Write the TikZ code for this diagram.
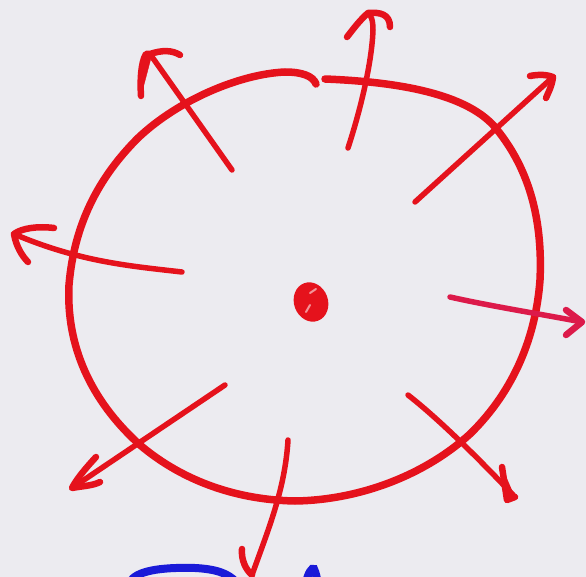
\documentclass[tikz,border=0pt]{standalone}
\usetikzlibrary{arrows.meta}
\definecolor{paper}{HTML}{ECEBF0}
\definecolor{ink}{HTML}{E5121C}
\definecolor{pink}{HTML}{DC1A4A}
\definecolor{bink}{HTML}{1A1AD8}
\tikzset{
  ring/.style={ink, line width=7.5pt, line cap=round, line join=round},
  ray/.style={ink, line width=5.5pt, line cap=round, line join=round},
  barb/.style={ink, line width=6.5pt, line cap=round, line join=round},
  blue/.style={bink, line width=8pt, line cap=round},
}
\begin{document}
\begin{tikzpicture}[x=1pt,y=-1pt]
\fill[paper] (0,0) rectangle (586,577);
\useasboundingbox (0,0) rectangle (586,577);
\begin{scope}
\clip (0,0) rectangle (586,577);
% ring, drawn as one stroke with a gap at the top
\draw[ring] (316,84) .. controls (313,76) and (302,72) .. (285,72)
  .. controls (240,74) and (178,100) .. (138,138)
  .. controls (98,178) and (74,225) .. (69,285)
  .. controls (66,345) and (90,400) .. (140,445)
  .. controls (185,483) and (240,500) .. (295,501)
  .. controls (360,500) and (425,475) .. (470,434)
  .. controls (515,390) and (536,335) .. (540,280)
  .. controls (543,215) and (527,165) .. (494,126)
  .. controls (465,94) and (400,82) .. (325,79);
% centre dot
\fill[ink, rotate around={20:(311,302)}] (311,302) ellipse [x radius=17, y radius=20];
\draw[white, opacity=0.55, line width=2pt, line cap=round] (310,293) -- (316,289) (306,312) -- (310,305);
% rays
\coordinate (s1) at (232,170); \coordinate (t1) at (150,54);
\draw[ray] (s1) -- (t1);
\draw[barb] (141,96) .. controls (140,80) and (141,62) .. (146,54) -- (t1) .. controls (162,50) and (172,50) .. (180,55);
\draw[ink, fill] (146,54) -- (151,58) -- (141,96) -- (139,70) -- cycle;
\coordinate (s2) at (348,148); \coordinate (t2) at (368,13);
\draw[ray] (s2) .. controls (362,105) and (372,60) .. (373,30) .. controls (373,20) and (371,15) .. (t2);
\draw[barb] (347,37) .. controls (354,28) and (360,20) .. (t2) .. controls (380,12) and (390,14) .. (390,27);
\coordinate (s3) at (415,202); \coordinate (t3) at (553,77);
\draw[ray] (s3) -- (t3);
\draw[barb] (530,76) .. controls (540,74) and (548,75) .. (t3) .. controls (552,86) and (548,93) .. (546,98);
\coordinate (s4) at (182,272); \coordinate (t4) at (14,234);
\draw[ray] (s4) .. controls (130,266) and (80,262) .. (t4);
\draw[barb] (54,228) .. controls (38,226) and (22,228) .. (t4) .. controls (16,246) and (22,256) .. (28,262);
\coordinate (s5) at (450,297); \coordinate (t5) at (582,322);
\draw[ray, pink] (s5) .. controls (490,306) and (540,314) .. (t5);
\draw[barb, pink] (566,310) -- (t5) -- (566,335);
\coordinate (s6) at (408,395); \coordinate (t6) at (515,497);
\draw[ray] (s6) .. controls (440,420) and (480,460) .. (t6);
\draw[barb] (502,467) -- (507,500) -- (t6);
\fill[ink] (502,467) -- (507,500) -- (t6) -- cycle;
\coordinate (s7) at (225,385); \coordinate (t7) at (72,488);
\draw[ray] (s7) -- (t7);
\draw[barb] (96,457) .. controls (84,470) and (76,480) .. (t7) .. controls (82,486) and (92,486) .. (100,482);
\coordinate (s8) at (288,440); \coordinate (t8) at (252,575);
\draw[ray] (s8) .. controls (285,490) and (268,530) .. (t8);
\draw[barb] (242,549) .. controls (241,560) and (246,570) .. (t8);
% cut-off blue writing at the bottom edge
\draw[blue] (130,582) .. controls (136,571) and (160,567) .. (195,568) .. controls (215,569) and (228,573) .. (236,582);
\draw[blue] (306,583) .. controls (308,573) and (312,567) .. (314,569) .. controls (316,573) and (317,579) .. (318,583);
\end{scope}
\end{tikzpicture}
\end{document}
